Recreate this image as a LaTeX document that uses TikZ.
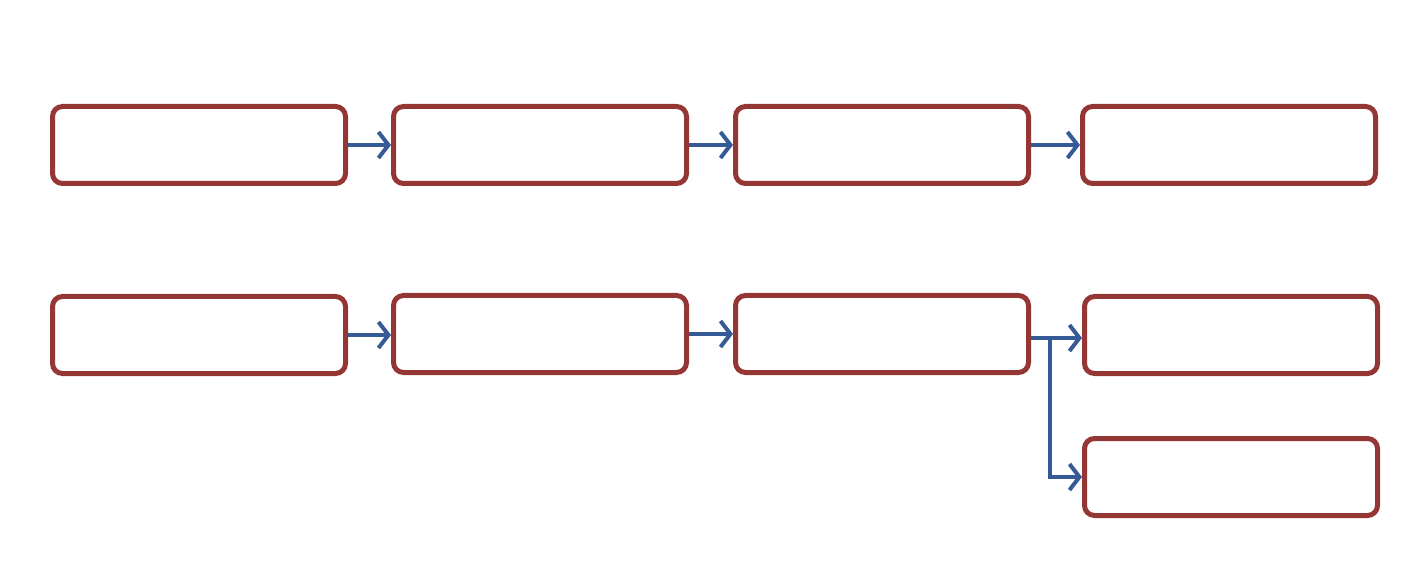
\documentclass[tikz,border=0pt]{standalone}
\usetikzlibrary{arrows.meta}
\definecolor{boxred}{RGB}{148,54,52}
\definecolor{arrowblue}{RGB}{54,90,150}
\begin{document}
\begin{tikzpicture}[x=1pt,y=-1pt,
  stage/.style={draw=boxred, line width=5pt, rounded corners=10pt,
    minimum width=293pt, minimum height=77pt, inner sep=0pt, fill=white},
  flow/.style={draw=arrowblue, line width=4pt,
    -{Straight Barb[length=10pt,width=26pt]}}]
  \useasboundingbox (0,0) rectangle (1428,588);
  % first row
  \node[stage] (a1) at (199,145) {};
  \node[stage] (a2) at (540,145) {};
  \node[stage] (a3) at (882,145) {};
  \node[stage] (a4) at (1229,145) {};
  % second row
  \node[stage] (b1) at (199,335) {};
  \node[stage] (b2) at (540,334) {};
  \node[stage] (b3) at (882,334) {};
  \node[stage] (b4) at (1231,335) {};
  \node[stage] (b5) at (1231,477) {};
  % connectors
  \draw[flow] (a1.east) -- (a2.west);
  \draw[flow] (a2.east) -- (a3.west);
  \draw[flow] (a3.east) -- (a4.west);
  \draw[flow] (b1.east) -- (b2.west |- b1.east);
  \draw[flow] (b2.east) -- (b3.west);
  \coordinate (split) at (1050,338);
  \draw[flow] (b3.east |- split) -- (b4.west |- split);
  \draw[flow] (split) |- (b5.west);
\end{tikzpicture}
\end{document}
